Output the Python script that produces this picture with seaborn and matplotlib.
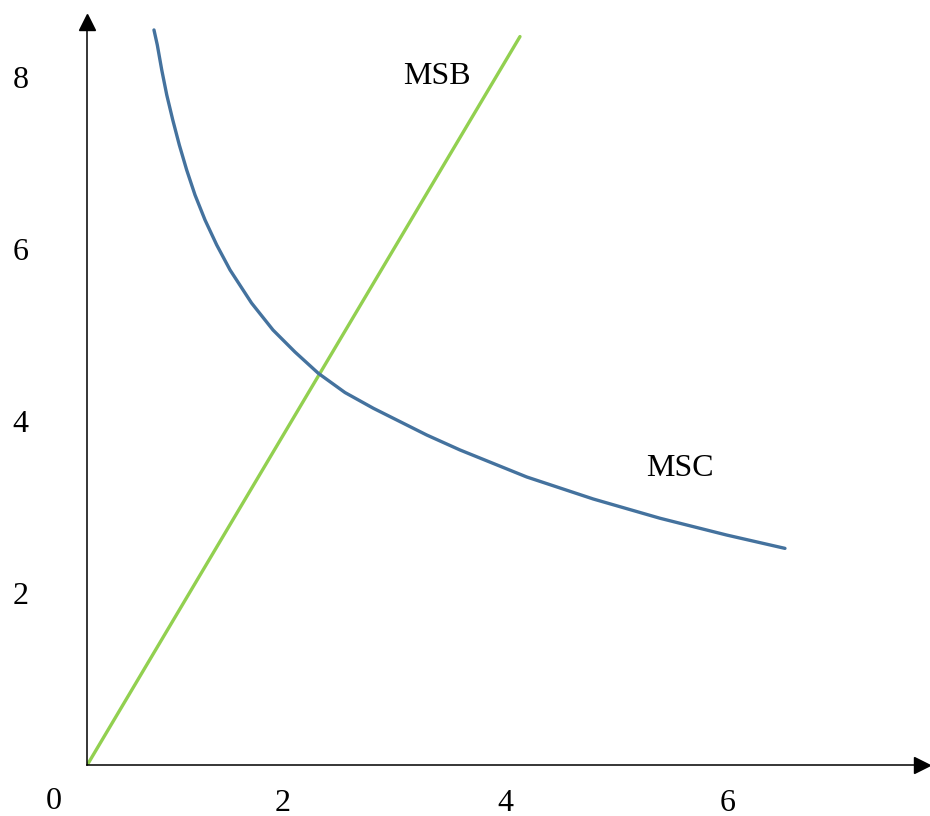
import matplotlib
matplotlib.use("Agg")
import matplotlib.pyplot as plt
import seaborn as sns
import pandas as pd

# values
msb_q = [0.24, 4.13]
msb_p = [0.0, 8.47]

msc_q = [0.840, 0.870, 0.910, 0.955, 1.009, 1.068, 1.134, 1.209, 1.299, 1.404,
         1.524, 1.717, 1.910, 2.108, 2.317, 2.557, 2.812, 3.292, 3.591, 4.191,
         4.789, 5.389, 5.988, 6.512]
msc_p = [8.547, 8.372, 8.081, 7.791, 7.500, 7.209, 6.919, 6.628, 6.337, 6.047,
         5.756, 5.372, 5.058, 4.802, 4.555, 4.331, 4.148, 3.837, 3.663, 3.349,
         3.093, 2.869, 2.674, 2.519]

x_ticks = [2, 4, 6]
y_ticks = [2, 4, 6, 8]

sns.set_style("white")
plt.rcParams["font.family"] = ["Liberation Serif", "DejaVu Serif"]
plt.rcParams["font.size"] = 23
plt.rcParams["text.color"] = "black"
plt.rcParams["xtick.color"] = "black"
plt.rcParams["ytick.color"] = "black"

df = pd.concat([
    pd.DataFrame({"Q": msb_q, "P": msb_p, "curve": "MSB"}),
    pd.DataFrame({"Q": msc_q, "P": msc_p, "curve": "MSC"}),
])

W, H = 930, 816
fig = plt.figure(figsize=(W / 100, H / 100), dpi=100)
ax = fig.add_axes([87 / W, (H - 765) / H, (922 - 87) / W, (765 - 22) / H])

sns.lineplot(data=df, x="Q", y="P", hue="curve", sort=False, estimator=None,
             palette={"MSB": "#92D050", "MSC": "#44729E"}, linewidth=2.4,
             legend=False, ax=ax)
for line in ax.lines:
    line.set_solid_joinstyle("round")

ax.set_xlim(0.238, (922 - 60.5) / 111.25)
ax.set_ylim(0, (765 - 22) / 86)

for side in ["top", "right"]:
    ax.spines[side].set_visible(False)
for side in ["left", "bottom"]:
    ax.spines[side].set_color("black")
    ax.spines[side].set_linewidth(1.1)

# arrow heads on the axes
ax.plot(0, 1, marker="^", color="black", markersize=11, transform=ax.transAxes, clip_on=False)
ax.plot(1, 0, marker=">", color="black", markersize=11, transform=ax.transAxes, clip_on=False)

ax.set_xticks(x_ticks)
ax.set_yticks(y_ticks)
ax.tick_params(axis="x", length=0, pad=17)
ax.tick_params(axis="y", length=0, pad=42)
ax.set_xlabel("")
ax.set_ylabel("")

ax.text(-0.04, -0.029, "0", transform=ax.transAxes, ha="center", va="top")
ax.text(3.38, 8.0, "MSB", ha="center", va="center")
ax.text(5.57, 3.45, "MSC", ha="center", va="center")

fig.savefig("out.png", dpi=100)
